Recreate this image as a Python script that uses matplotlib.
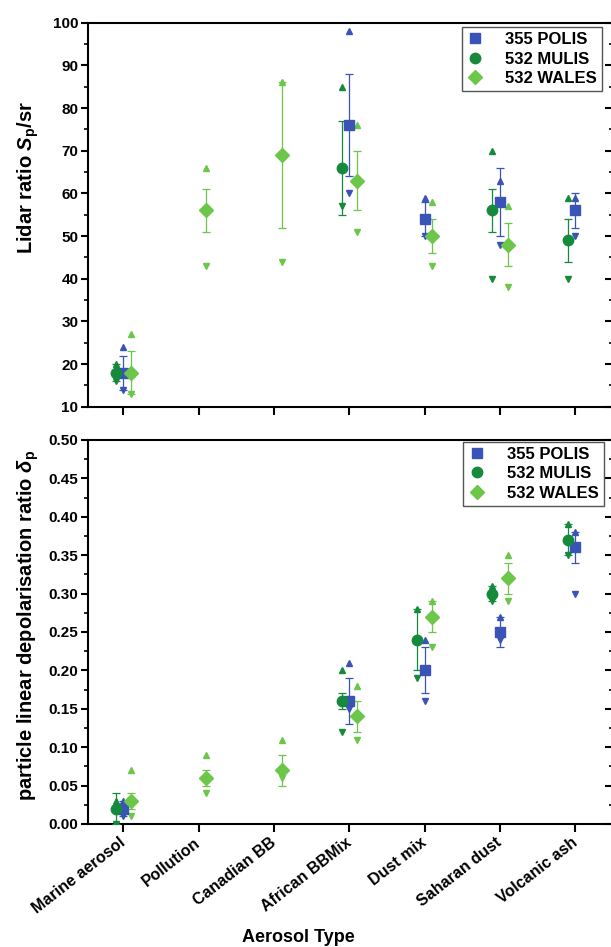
import numpy as np
import matplotlib.pyplot as plt
from matplotlib.lines import Line2D
from matplotlib.ticker import MultipleLocator

plt.rcParams['font.family'] = ['Liberation Sans', 'DejaVu Sans']
plt.rcParams['font.weight'] = 'bold'
plt.rcParams['mathtext.fontset'] = 'custom'
plt.rcParams['mathtext.rm'] = 'Liberation Sans:bold'
plt.rcParams['mathtext.it'] = 'Liberation Sans:italic:bold'
plt.rcParams['mathtext.bf'] = 'Liberation Sans:bold'

nan = np.nan
categories = ["Marine aerosol", "Pollution", "Canadian BB", "African BBMix",
              "Dust mix", "Saharan dust", "Volcanic ash"]
series_names = ["355 POLIS", "532 MULIS", "532 WALES"]

# lidar ratio S_p (sr): mean, error, max, min
sp_polis = [18, nan, nan, 76, 54, 58, 56]
sp_polis_err = [4, nan, nan, 12, 4, 8, 4]
sp_polis_max = [24, nan, nan, 98, 59, 63, 59]
sp_polis_min = [14, nan, nan, 60, 50, 48, 50]

sp_mulis = [18, nan, nan, 66, nan, 56, 49]
sp_mulis_err = [2, nan, nan, 11, nan, 5, 5]
sp_mulis_max = [20, nan, nan, 85, nan, 70, 59]
sp_mulis_min = [16, nan, nan, 57, nan, 40, 40]

sp_wales = [18, 56, 69, 63, 50, 48, nan]
sp_wales_err = [5, 5, 17, 7, 4, 5, nan]
sp_wales_max = [27, 66, 86, 76, 58, 57, nan]
sp_wales_min = [13, 43, 44, 51, 43, 38, nan]

# particle linear depolarisation ratio delta_p: mean, error, max, min
dp_polis = [0.02, nan, nan, 0.16, 0.20, 0.25, 0.36]
dp_polis_err = [0.01, nan, nan, 0.03, 0.03, 0.02, 0.02]
dp_polis_max = [0.03, nan, nan, 0.21, 0.24, 0.27, 0.38]
dp_polis_min = [0.01, nan, nan, 0.15, 0.16, 0.24, 0.30]

dp_mulis = [0.02, nan, nan, 0.16, 0.24, 0.30, 0.37]
dp_mulis_err = [0.02, nan, nan, 0.01, 0.04, 0.01, 0.02]
dp_mulis_max = [0.03, nan, nan, 0.20, 0.28, 0.31, 0.39]
dp_mulis_min = [0.00, nan, nan, 0.12, 0.19, 0.29, 0.35]

dp_wales = [0.03, 0.06, 0.07, 0.14, 0.27, 0.32, nan]
dp_wales_err = [0.01, 0.01, 0.02, 0.02, 0.02, 0.02, nan]
dp_wales_max = [0.07, 0.09, 0.11, 0.18, 0.29, 0.35, nan]
dp_wales_min = [0.01, 0.04, 0.06, 0.11, 0.23, 0.29, nan]

c_polis = "#3a53b6"
c_mulis = "#168a3c"
c_wales = "#6cc64a"


def draw_series(ax, x, mean, err, vmax, vmin, color, marker, ms):
    ax.errorbar(x, mean, yerr=err, fmt=marker, ms=ms, color=color,
                ecolor=color, elinewidth=0.9, capsize=3, capthick=0.9,
                mec=color, zorder=3)
    ax.plot(x, vmax, "^", color=color, ms=4.5, ls="none", zorder=3)
    ax.plot(x, vmin, "v", color=color, ms=4.5, ls="none", zorder=3)


def style_axes(ax, major, minor):
    for s in ["left", "bottom", "top"]:
        ax.spines[s].set_linewidth(1.5)
    ax.spines["right"].set_visible(False)
    ax.yaxis.set_major_locator(MultipleLocator(major))
    ax.yaxis.set_minor_locator(MultipleLocator(minor))
    ax.tick_params(axis="y", which="major", direction="out", length=5,
                   width=1.5, labelsize=11, pad=2)
    ax.tick_params(axis="y", which="minor", direction="out", length=3, width=1.2)
    ax.tick_params(axis="x", which="major", direction="out", length=6,
                   width=1.5, labelsize=11)
    sec = ax.secondary_yaxis("right")
    sec.yaxis.set_major_locator(MultipleLocator(major))
    sec.yaxis.set_minor_locator(MultipleLocator(minor))
    sec.tick_params(which="major", direction="in", length=6, width=1.5,
                    labelright=False)
    sec.tick_params(which="minor", direction="in", length=3, width=1.2)
    sec.spines["right"].set_linewidth(1.5)


fig = plt.figure(figsize=(6.11, 9.47), dpi=100)
ax1 = fig.add_axes([0.144, 0.5705, 0.8592, 0.4055])
ax2 = fig.add_axes([0.144, 0.1299, 0.8592, 0.4055])

xs = np.arange(len(categories))
off = 0.1

draw_series(ax1, xs, sp_polis, sp_polis_err, sp_polis_max, sp_polis_min, c_polis, "s", 7)
draw_series(ax1, xs - off, sp_mulis, sp_mulis_err, sp_mulis_max, sp_mulis_min, c_mulis, "o", 7.5)
draw_series(ax1, xs + off, sp_wales, sp_wales_err, sp_wales_max, sp_wales_min, c_wales, "D", 7)

draw_series(ax2, xs, dp_polis, dp_polis_err, dp_polis_max, dp_polis_min, c_polis, "s", 7)
draw_series(ax2, xs - off, dp_mulis, dp_mulis_err, dp_mulis_max, dp_mulis_min, c_mulis, "o", 7.5)
draw_series(ax2, xs + off, dp_wales, dp_wales_err, dp_wales_max, dp_wales_min, c_wales, "D", 7)

for ax in (ax1, ax2):
    ax.set_xlim(-0.47, 6.5)
    ax.set_xticks(xs)

ax1.set_ylim(10, 100)
ax2.set_ylim(0, 0.5)
style_axes(ax1, 10, 5)
style_axes(ax2, 0.05, 0.025)
ax2.yaxis.set_major_formatter(plt.FormatStrFormatter("%.2f"))
ax1.set_xticklabels([])
ax2.set_xticklabels(categories, rotation=38, ha="right", va="center",
                    rotation_mode="anchor", fontsize=11.5, fontweight="bold")
ax2.tick_params(axis="x", pad=6)

handles = [Line2D([], [], marker="s", color=c_polis, ls="none", ms=6.5),
           Line2D([], [], marker="o", color=c_mulis, ls="none", ms=7.5),
           Line2D([], [], marker="D", color=c_wales, ls="none", ms=7)]
for ax, anchor in ((ax1, (0.979, 0.989)), (ax2, (0.982, 0.996))):
    leg = ax.legend(handles, series_names, loc="upper right", bbox_to_anchor=anchor,
                    borderaxespad=0, fancybox=False, framealpha=1, edgecolor="#555555",
                    prop={"size": 12, "weight": "bold"}, handlelength=1.0,
                    handletextpad=1.3, labelspacing=0.28, borderpad=0.3)
    leg.get_frame().set_linewidth(1.0)

fig.text(28 / 611, 1 - 178 / 947, r"Lidar ratio $\mathit{S}_\mathrm{p}$/sr",
         rotation=90, ha="center", va="center", fontsize=14.5, fontweight="bold")
fig.text(28 / 611, 1 - 625 / 947,
         r"particle linear depolarisation ratio $\mathit{\delta}_\mathrm{p}$",
         rotation=90, ha="center", va="center", fontsize=14.5, fontweight="bold")
fig.text(298 / 611, 1 - 937 / 947, "Aerosol Type", ha="center", va="center",
         fontsize=13, fontweight="bold")

fig.savefig("out.png", dpi=100)
